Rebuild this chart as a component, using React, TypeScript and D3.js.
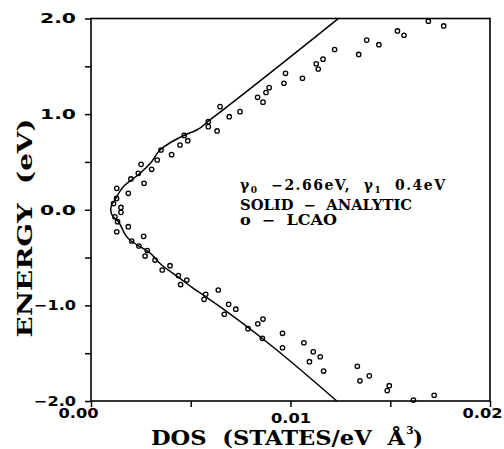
import React, { useEffect, useRef } from "react";
import * as d3 from "d3";

// analytic (solid) curve, energy in eV vs DOS
const curveEnergy = [-2.0, -0.892, -0.822, -0.717, -0.578, -0.439, -0.386, -0.316, -0.125, -0.05, 0, 0.05, 0.102, 0.241, 0.381, 0.503, 0.625, 0.782, 0.834, 0.939, 2.0];
const curveDos = [0.01232, 0.00563, 0.00513, 0.00446, 0.00354, 0.00287, 0.00246, 0.00195, 0.00137, 0.00104, 0.00099, 0.00104, 0.0012, 0.00162, 0.00246, 0.00304, 0.00346, 0.00471, 0.0053, 0.00596, 0.0124];

// LCAO points (circles)
const lcaoEnergy = [
  0.065, 0.118, 0.024, -0.027, 0.224, 0.172, 0.322, 0.277, 0.381, 0.475, 0.423, 0.52, 0.625, 0.576, 0.677, 0.777, 0.722,
  0.921, 0.869, 0.824, 1.078, 0.973, 1.026, 1.176, 1.125, 1.226, 1.277, 1.323, 1.427, 1.375, 1.527, 1.472, 1.575, 1.676,
  1.624, 1.774, 1.726, 1.87, 1.825, 1.972, 1.922,
  -0.073, -0.125, -0.23, -0.177, -0.327, -0.278, -0.379, -0.426, -0.484, -0.526, -0.585, -0.63, -0.688, -0.735, -0.782,
  -0.884, -0.937, -0.839, -0.989, -1.04, -1.093, -1.244, -1.192, -1.143, -1.345, -1.292, -1.443, -1.391, -1.485, -1.537,
  -1.589, -1.687, -1.637, -1.789, -1.737, -1.84, -1.891, -1.99, -1.94,
];
const lcaoDos = [
  0.00113, 0.00128, 0.0015, 0.0015, 0.00129, 0.00187, 0.002, 0.00266, 0.00237, 0.00251, 0.00304, 0.00332, 0.00351, 0.00404, 0.00446, 0.00467, 0.00485,
  0.00588, 0.00588, 0.00632, 0.00647, 0.00693, 0.00747, 0.00835, 0.00862, 0.00877, 0.00893, 0.00967, 0.00975, 0.0106, 0.01129, 0.01139, 0.01163, 0.01221,
  0.01342, 0.01382, 0.01443, 0.01536, 0.01569, 0.01691, 0.01768,
  0.0012, 0.00133, 0.00129, 0.00187, 0.00204, 0.00264, 0.0024, 0.00282, 0.00271, 0.00321, 0.00396, 0.00357, 0.00438, 0.0048, 0.00449,
  0.00575, 0.00567, 0.00638, 0.0069, 0.00726, 0.00668, 0.00787, 0.00836, 0.00862, 0.00859, 0.0096, 0.0096, 0.01067, 0.01114, 0.01149,
  0.01095, 0.01166, 0.01335, 0.01348, 0.01395, 0.01495, 0.01485, 0.01616, 0.0172,
];

const energyTicks = [-2, -1.5, -1, -0.5, 0, 0.5, 1, 1.5, 2];
const energyTickLabels = ["\u22122.0", "", "\u22121.0", "", "0.0", "", "1.0", "", "2.0"];
const dosTicks = [0, 0.005, 0.01, 0.015, 0.02];
const dosTickLabels = ["0.00", "", "0.01", "", "0.02"];

export default function App() {
  const svgRef = useRef<SVGSVGElement>(null);

  useEffect(() => {
    const svg = d3.select(svgRef.current);
    svg.selectAll("*").remove();

    const x = d3.scaleLinear().domain([0, 0.02]).range([91, 490]);
    const y = d3.scaleLinear().domain([-2, 2]).range([401, 18.5]);

    // y axis
    const yAxis = d3
      .axisLeft(y)
      .tickValues(energyTicks)
      .tickSize(6)
      .tickPadding(9)
      .tickFormat((d, i) => energyTickLabels[i]);
    const gy = svg.append("g").attr("transform", "translate(91,0)").call(yAxis);
    gy.select(".domain").remove();
    gy.selectAll("line").attr("stroke", "#000").attr("stroke-width", 1.5);
    gy.selectAll("text")
      .attr("fill", "#000")
      .style("font-family", "DejaVu Sans")
      .style("font-weight", "bold")
      .style("font-size", "14px")
      .attr("lengthAdjust", "spacingAndGlyphs")
      .attr("textLength", (d, i) => (energyTickLabels[i].length === 3 ? 36 : energyTickLabels[i].length ? 42 : null));

    // x axis
    const xAxis = d3
      .axisBottom(x)
      .tickValues(dosTicks)
      .tickSize(6)
      .tickFormat((d, i) => dosTickLabels[i]);
    const gx = svg.append("g").attr("transform", "translate(0,401)").call(xAxis);
    gx.select(".domain").remove();
    gx.selectAll("line").attr("stroke", "#000").attr("stroke-width", 1.5);
    gx.selectAll("text")
      .attr("fill", "#000")
      .attr("dy", 0)
      .attr("y", (d, i) => (i === 2 ? 22 : 17))
      .attr("dx", (d, i) => (i === 0 ? -13 : i === 4 ? -8 : 0))
      .style("font-family", "DejaVu Sans")
      .style("font-weight", "bold")
      .style("font-size", "14px")
      .attr("lengthAdjust", "spacingAndGlyphs")
      .attr("textLength", (d, i) => (dosTickLabels[i] ? 40 : null));

    // frame
    svg
      .append("rect")
      .attr("x", x(0))
      .attr("y", y(2))
      .attr("width", x(0.02) - x(0))
      .attr("height", y(-2) - y(2))
      .attr("fill", "none")
      .attr("stroke", "#000")
      .attr("stroke-width", 1.6);

    // analytic curve
    const pts = curveEnergy.map((e, i) => [curveDos[i], e] as [number, number]);
    const myLine = d3
      .line<[number, number]>()
      .x((d) => x(d[0]))
      .y((d) => y(d[1]))
      .curve(d3.curveMonotoneY);
    svg
      .append("path")
      .datum(pts)
      .attr("d", myLine)
      .attr("fill", "none")
      .attr("stroke", "#000")
      .attr("stroke-width", 1.5);

    // LCAO circles
    svg
      .selectAll(".dots")
      .data(lcaoEnergy)
      .join("circle")
      .attr("class", "dots")
      .attr("cx", (d, i) => x(lcaoDos[i]))
      .attr("cy", (d) => y(d))
      .attr("r", 2.2)
      .attr("fill", "none")
      .attr("stroke", "#000")
      .attr("stroke-width", 1.3);

    // axis titles
    const serif = "DejaVu Serif";
    svg
      .append("text")
      .attr("transform", "translate(32,228) rotate(-90)")
      .attr("text-anchor", "middle")
      .attr("lengthAdjust", "spacingAndGlyphs")
      .attr("textLength", 219)
      .style("font-family", serif)
      .style("font-weight", "bold")
      .style("font-size", "21px")
      .style("white-space", "pre")
      .text("ENERGY  (eV)");

    svg
      .append("text")
      .attr("x", 151)
      .attr("y", 445)
      .attr("lengthAdjust", "spacingAndGlyphs")
      .attr("textLength", 254)
      .style("font-family", serif)
      .style("font-weight", "bold")
      .style("font-size", "21px")
      .style("white-space", "pre")
      .text("DOS  (STATES/eV  \u00c5");
    svg
      .append("text")
      .attr("x", 406)
      .attr("y", 434)
      .style("font-family", serif)
      .style("font-weight", "bold")
      .style("font-size", "11px")
      .text("3");
    svg
      .append("text")
      .attr("x", 413)
      .attr("y", 445)
      .style("font-family", serif)
      .style("font-weight", "bold")
      .style("font-size", "21px")
      .text(")");

    // legend
    const l1 = svg
      .append("text")
      .attr("x", 240)
      .attr("y", 190)
      .attr("textLength", 205)
      .style("font-family", serif)
      .style("font-weight", "bold")
      .style("font-size", "14px")
      .style("white-space", "pre");
    l1.append("tspan").text("\u03b3");
    l1.append("tspan").attr("dy", 3).style("font-size", "9px").text("0");
    l1.append("tspan").attr("dy", -3).text("  \u22122.66eV,  \u03b3");
    l1.append("tspan").attr("dy", 3).style("font-size", "9px").text("1");
    l1.append("tspan").attr("dy", -3).text("  0.4eV");

    svg
      .append("text")
      .attr("x", 240)
      .attr("y", 210)
      .attr("lengthAdjust", "spacingAndGlyphs")
      .attr("textLength", 172)
      .style("font-family", serif)
      .style("font-weight", "bold")
      .style("font-size", "14px")
      .style("white-space", "pre")
      .text("SOLID  \u2212  ANALYTIC");
    svg
      .append("text")
      .attr("x", 240)
      .attr("y", 225)
      .attr("lengthAdjust", "spacingAndGlyphs")
      .attr("textLength", 97)
      .style("font-family", serif)
      .style("font-weight", "bold")
      .style("font-size", "14px")
      .style("white-space", "pre")
      .text("o  \u2212  LCAO");
  }, []);

  return (
    <svg
      ref={svgRef}
      width={504}
      height={449}
      style={{ position: "absolute", left: 0, top: 0, background: "#fff" }}
    />
  );
}
